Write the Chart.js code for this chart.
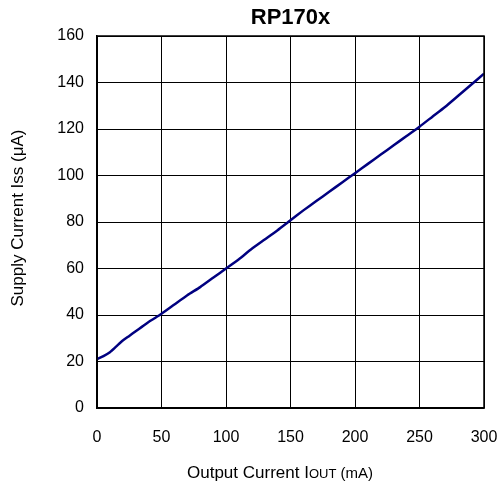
<!DOCTYPE html>
<html>
<head>
<meta charset="utf-8">
<script src="https://cdn.jsdelivr.net/npm/chart.js@4"></script>
<style>
  html, body { margin: 0; padding: 0; background: #fff; }
  #wrap { width: 502px; height: 491px; }
</style>
</head>
<body>
<div id="wrap"><canvas id="chart" width="502" height="491"></canvas></div>
<script>
// ── Data ─────────────────────────────────────────────────────────────────────
const outputCurrent = [0, 5, 10, 15, 20, 25, 30, 35, 40, 45, 50, 60, 70, 80, 90, 100,
  110, 120, 130, 140, 150, 160, 170, 180, 190, 200, 210, 220, 230, 240, 250,
  260, 270, 280, 290, 300];
const supplyCurrent = [21, 22.3, 24, 26.5, 29, 31, 33, 35, 37, 38.7, 40.5, 44.5, 48.5, 52, 56, 60,
  64, 68.5, 72.5, 76.5, 80.8, 85, 89, 93, 97, 101, 105, 109, 113, 117, 121,
  125.3, 129.6, 134.3, 139, 143.8];
const xTicks = [0, 50, 100, 150, 200, 250, 300];
const yTicks = [0, 20, 40, 60, 80, 100, 120, 140, 160];

const chartTitle = "RP170x";
const yTitle = "Supply Current Iss (μA)";

const FONT = "Arial, 'Liberation Sans', sans-serif";

// ── Decorations: frame, titles ───────────────────────────────────────────────
const decor = {
  id: "decor",
  afterDraw(chart) {
    const { ctx, chartArea: a } = chart;
    ctx.save();
    ctx.strokeStyle = "#000";
    ctx.lineWidth = 1.5;
    ctx.strokeRect(a.left, a.top, a.right - a.left, a.bottom - a.top);

    ctx.fillStyle = "#000";
    ctx.textBaseline = "middle";

    // chart title, centred over the plot
    ctx.font = "bold 22px " + FONT;
    ctx.textAlign = "center";
    ctx.fillText(chartTitle, (a.left + a.right) / 2, 18);

    // y title
    ctx.font = "17px " + FONT;
    ctx.save();
    ctx.translate(18, 218);
    ctx.rotate(-Math.PI / 2);
    ctx.fillText(yTitle, 0, 0);
    ctx.restore();

    // x title with small-caps "OUT"
    const parts = [["Output Current I", "17px"], ["OUT", "13px"], [" (mA)", "15px"]];
    let total = 0;
    parts.forEach(p => { ctx.font = p[1] + " " + FONT; total += ctx.measureText(p[0]).width; });
    let x = 280 - total / 2;
    ctx.textAlign = "left";
    ctx.textBaseline = "alphabetic";
    parts.forEach(p => {
      ctx.font = p[1] + " " + FONT;
      ctx.fillText(p[0], x, 478);
      x += ctx.measureText(p[0]).width;
    });
    ctx.restore();
  }
};

new Chart(document.getElementById("chart"), {
  type: "line",
  data: {
    datasets: [{
      data: outputCurrent.map((v, i) => ({ x: v, y: supplyCurrent[i] })),
      borderColor: "#000080",
      borderWidth: 2.5,
      pointRadius: 0,
      tension: 0.2,
      fill: false,
    }]
  },
  options: {
    responsive: false,
    animation: false,
    layout: { padding: { top: 36, right: 18, left: 0, bottom: 0 } },
    plugins: { legend: { display: false }, tooltip: { enabled: false }, title: { display: false } },
    scales: {
      x: {
        type: "linear",
        min: 0, max: 300,
        afterBuildTicks: s => { s.ticks = xTicks.map(v => ({ value: v })); },
        afterFit: s => { s.height = 83; s.paddingLeft = 0; s.paddingRight = 0; },
        grid: { color: "#000", lineWidth: 1, drawTicks: false },
        border: { color: "#000", width: 1.5 },
        ticks: { color: "#000", font: { family: FONT, size: 16 }, padding: 20, maxRotation: 0 },
      },
      y: {
        min: 0, max: 160,
        afterBuildTicks: s => { s.ticks = yTicks.map(v => ({ value: v })); },
        afterFit: s => { s.width = 97; s.paddingTop = 0; s.paddingBottom = 0; },
        grid: { color: "#000", lineWidth: 1, drawTicks: false },
        border: { color: "#000", width: 1.5 },
        ticks: { color: "#000", font: { family: FONT, size: 16 }, padding: 13 },
      }
    }
  },
  plugins: [decor]
});
</script>
</body>
</html>
